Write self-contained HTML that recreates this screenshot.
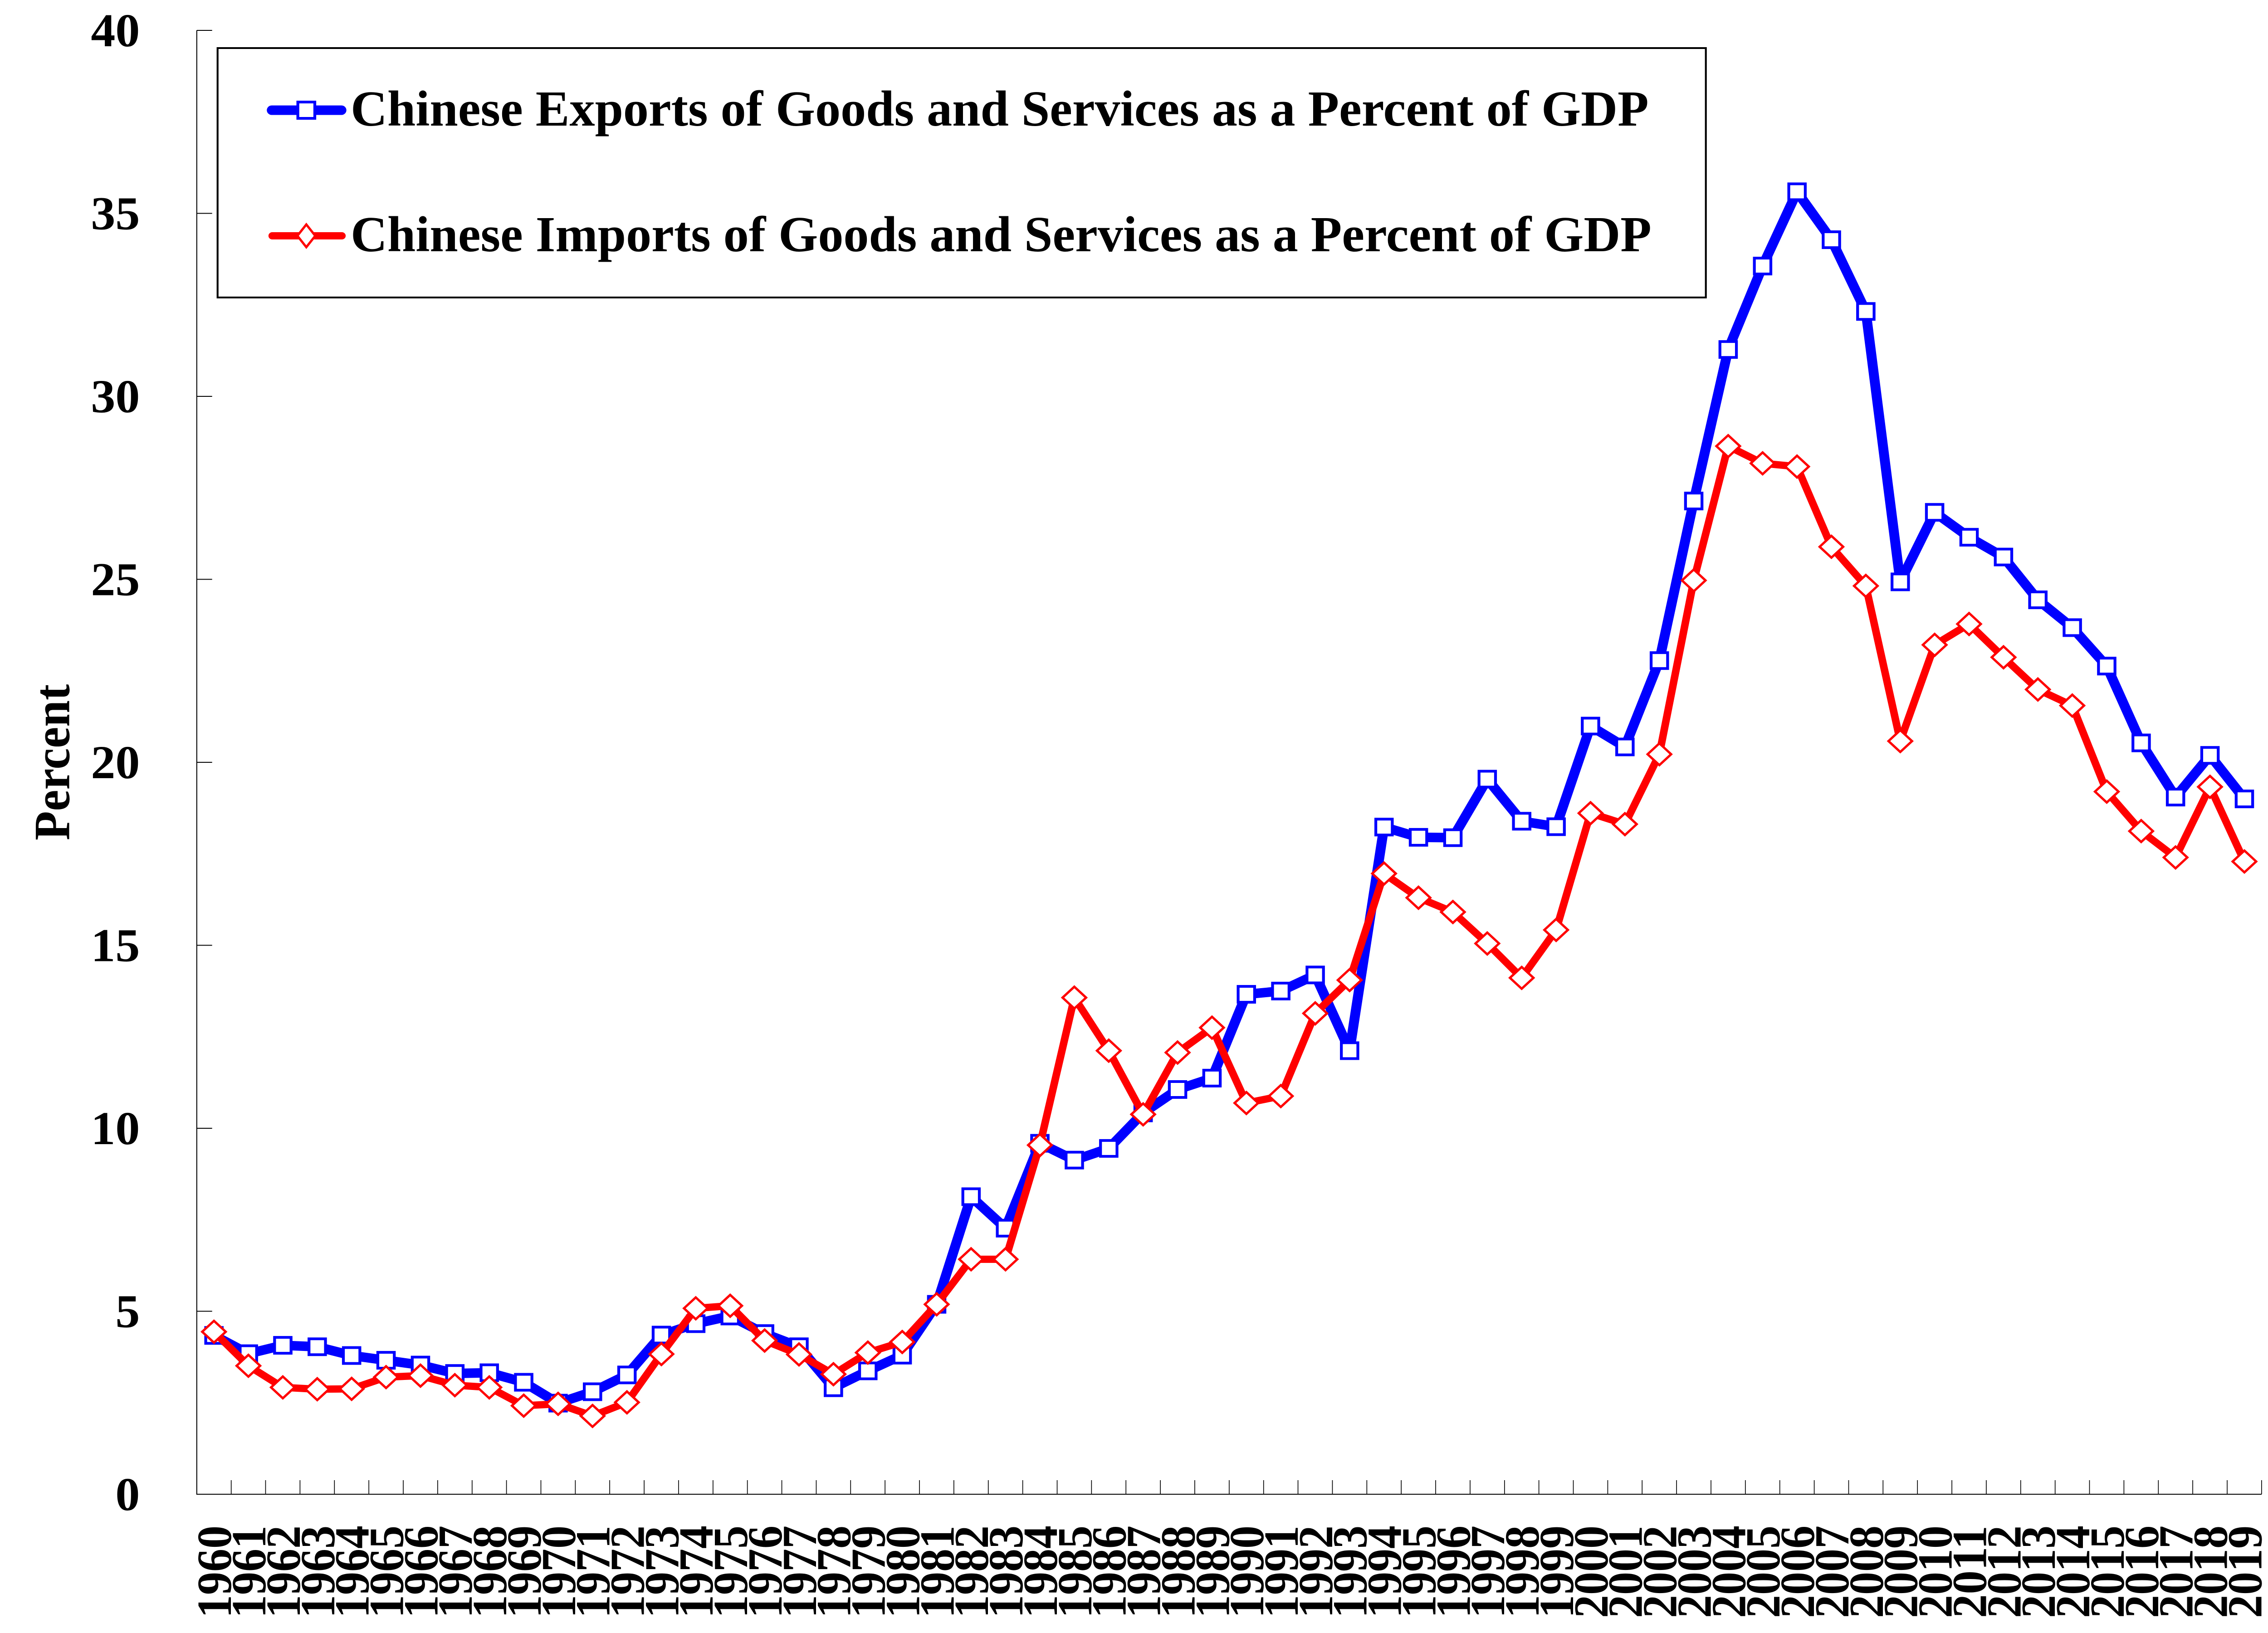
<!DOCTYPE html>
<html>
<head>
<meta charset="utf-8">
<style>
html,body{margin:0;padding:0;background:#fff;width:100%;height:100%;overflow:hidden;}
svg{display:block;position:absolute;left:0;top:0;width:100vw;height:100vh;}
text{font-family:"Liberation Serif","Times New Roman",serif;font-weight:bold;fill:#000;}
</style>
</head>
<body>
<svg viewBox="0 0 4815.6 3601" preserveAspectRatio="none" xmlns="http://www.w3.org/2000/svg">
<defs>
<rect id="s" x="-17.5" y="-17.5" width="35" height="35" fill="#fff" stroke="#0000ff" stroke-width="6"/>
<polygon id="d" points="0,-24 25,0 0,24 -25,0" fill="#fff" stroke="#ff0000" stroke-width="5"/>
</defs>
<rect x="0" y="0" width="4815.6" height="3601" fill="#fff"/>

<!-- axes -->
<path d="M417.8 67V3295H4802" fill="none" stroke="#000" stroke-width="2"/>
<path d="M417.8 67H450.4M417.8 470.5H450.4M417.8 874H450.4M417.8 1277.5H450.4M417.8 1681H450.4M417.8 2084.5H450.4M417.8 2488H450.4M417.8 2891.5H450.4" stroke="#000" stroke-width="2"/>
<path stroke="#000" stroke-width="1.6" d="M490.9 3264V3295M563.9 3264V3295M637.0 3264V3295M710.1 3264V3295M783.2 3264V3295M856.2 3264V3295M929.3 3264V3295M1002.4 3264V3295M1075.4 3264V3295M1148.5 3264V3295M1221.6 3264V3295M1294.6 3264V3295M1367.7 3264V3295M1440.8 3264V3295M1513.9 3264V3295M1586.9 3264V3295M1660.0 3264V3295M1733.1 3264V3295M1806.1 3264V3295M1879.2 3264V3295M1952.3 3264V3295M2025.3 3264V3295M2098.4 3264V3295M2171.5 3264V3295M2244.6 3264V3295M2317.6 3264V3295M2390.7 3264V3295M2463.8 3264V3295M2536.8 3264V3295M2609.9 3264V3295M2683.0 3264V3295M2756.0 3264V3295M2829.1 3264V3295M2902.2 3264V3295M2975.2 3264V3295M3048.3 3264V3295M3121.4 3264V3295M3194.5 3264V3295M3267.5 3264V3295M3340.6 3264V3295M3413.7 3264V3295M3486.7 3264V3295M3559.8 3264V3295M3632.9 3264V3295M3705.9 3264V3295M3779.0 3264V3295M3852.1 3264V3295M3925.2 3264V3295M3998.2 3264V3295M4071.3 3264V3295M4144.4 3264V3295M4217.4 3264V3295M4290.5 3264V3295M4363.6 3264V3295M4436.6 3264V3295M4509.7 3264V3295M4582.8 3264V3295M4655.8 3264V3295M4728.9 3264V3295M4802.0 3264V3295"/>

<!-- y tick labels -->
<g font-size="104" text-anchor="end">
<text x="297" y="102">40</text>
<text x="297" y="505.5">35</text>
<text x="297" y="909">30</text>
<text x="297" y="1312.5">25</text>
<text x="297" y="1716">20</text>
<text x="297" y="2119.5">15</text>
<text x="297" y="2523">10</text>
<text x="297" y="2926.5">5</text>
<text x="297" y="3330">0</text>
</g>

<!-- y axis title -->
<text font-size="108" text-anchor="middle" textLength="344" lengthAdjust="spacingAndGlyphs" transform="translate(146.7,1681) rotate(-90)">Percent</text>

<!-- x labels -->
<g font-size="104">
<text transform="translate(490.3,3568) rotate(-90)" textLength="204" lengthAdjust="spacingAndGlyphs">1960</text>
<text transform="translate(563.4,3568) rotate(-90)" textLength="204" lengthAdjust="spacingAndGlyphs">1961</text>
<text transform="translate(636.5,3568) rotate(-90)" textLength="204" lengthAdjust="spacingAndGlyphs">1962</text>
<text transform="translate(709.6,3568) rotate(-90)" textLength="204" lengthAdjust="spacingAndGlyphs">1963</text>
<text transform="translate(782.6,3568) rotate(-90)" textLength="204" lengthAdjust="spacingAndGlyphs">1964</text>
<text transform="translate(855.7,3568) rotate(-90)" textLength="204" lengthAdjust="spacingAndGlyphs">1965</text>
<text transform="translate(928.8,3568) rotate(-90)" textLength="204" lengthAdjust="spacingAndGlyphs">1966</text>
<text transform="translate(1001.8,3568) rotate(-90)" textLength="204" lengthAdjust="spacingAndGlyphs">1967</text>
<text transform="translate(1074.9,3568) rotate(-90)" textLength="204" lengthAdjust="spacingAndGlyphs">1968</text>
<text transform="translate(1148.0,3568) rotate(-90)" textLength="204" lengthAdjust="spacingAndGlyphs">1969</text>
<text transform="translate(1221.0,3568) rotate(-90)" textLength="204" lengthAdjust="spacingAndGlyphs">1970</text>
<text transform="translate(1294.1,3568) rotate(-90)" textLength="204" lengthAdjust="spacingAndGlyphs">1971</text>
<text transform="translate(1367.2,3568) rotate(-90)" textLength="204" lengthAdjust="spacingAndGlyphs">1972</text>
<text transform="translate(1440.3,3568) rotate(-90)" textLength="204" lengthAdjust="spacingAndGlyphs">1973</text>
<text transform="translate(1513.3,3568) rotate(-90)" textLength="204" lengthAdjust="spacingAndGlyphs">1974</text>
<text transform="translate(1586.4,3568) rotate(-90)" textLength="204" lengthAdjust="spacingAndGlyphs">1975</text>
<text transform="translate(1659.5,3568) rotate(-90)" textLength="204" lengthAdjust="spacingAndGlyphs">1976</text>
<text transform="translate(1732.5,3568) rotate(-90)" textLength="204" lengthAdjust="spacingAndGlyphs">1977</text>
<text transform="translate(1805.6,3568) rotate(-90)" textLength="204" lengthAdjust="spacingAndGlyphs">1978</text>
<text transform="translate(1878.7,3568) rotate(-90)" textLength="204" lengthAdjust="spacingAndGlyphs">1979</text>
<text transform="translate(1951.7,3568) rotate(-90)" textLength="204" lengthAdjust="spacingAndGlyphs">1980</text>
<text transform="translate(2024.8,3568) rotate(-90)" textLength="204" lengthAdjust="spacingAndGlyphs">1981</text>
<text transform="translate(2097.9,3568) rotate(-90)" textLength="204" lengthAdjust="spacingAndGlyphs">1982</text>
<text transform="translate(2171.0,3568) rotate(-90)" textLength="204" lengthAdjust="spacingAndGlyphs">1983</text>
<text transform="translate(2244.0,3568) rotate(-90)" textLength="204" lengthAdjust="spacingAndGlyphs">1984</text>
<text transform="translate(2317.1,3568) rotate(-90)" textLength="204" lengthAdjust="spacingAndGlyphs">1985</text>
<text transform="translate(2390.2,3568) rotate(-90)" textLength="204" lengthAdjust="spacingAndGlyphs">1986</text>
<text transform="translate(2463.2,3568) rotate(-90)" textLength="204" lengthAdjust="spacingAndGlyphs">1987</text>
<text transform="translate(2536.3,3568) rotate(-90)" textLength="204" lengthAdjust="spacingAndGlyphs">1988</text>
<text transform="translate(2609.4,3568) rotate(-90)" textLength="204" lengthAdjust="spacingAndGlyphs">1989</text>
<text transform="translate(2682.4,3568) rotate(-90)" textLength="204" lengthAdjust="spacingAndGlyphs">1990</text>
<text transform="translate(2755.5,3568) rotate(-90)" textLength="204" lengthAdjust="spacingAndGlyphs">1991</text>
<text transform="translate(2828.6,3568) rotate(-90)" textLength="204" lengthAdjust="spacingAndGlyphs">1992</text>
<text transform="translate(2901.6,3568) rotate(-90)" textLength="204" lengthAdjust="spacingAndGlyphs">1993</text>
<text transform="translate(2974.7,3568) rotate(-90)" textLength="204" lengthAdjust="spacingAndGlyphs">1994</text>
<text transform="translate(3047.8,3568) rotate(-90)" textLength="204" lengthAdjust="spacingAndGlyphs">1995</text>
<text transform="translate(3120.9,3568) rotate(-90)" textLength="204" lengthAdjust="spacingAndGlyphs">1996</text>
<text transform="translate(3193.9,3568) rotate(-90)" textLength="204" lengthAdjust="spacingAndGlyphs">1997</text>
<text transform="translate(3267.0,3568) rotate(-90)" textLength="204" lengthAdjust="spacingAndGlyphs">1998</text>
<text transform="translate(3340.1,3568) rotate(-90)" textLength="204" lengthAdjust="spacingAndGlyphs">1999</text>
<text transform="translate(3413.1,3568) rotate(-90)" textLength="204" lengthAdjust="spacingAndGlyphs">2000</text>
<text transform="translate(3486.2,3568) rotate(-90)" textLength="204" lengthAdjust="spacingAndGlyphs">2001</text>
<text transform="translate(3559.3,3568) rotate(-90)" textLength="204" lengthAdjust="spacingAndGlyphs">2002</text>
<text transform="translate(3632.3,3568) rotate(-90)" textLength="204" lengthAdjust="spacingAndGlyphs">2003</text>
<text transform="translate(3705.4,3568) rotate(-90)" textLength="204" lengthAdjust="spacingAndGlyphs">2004</text>
<text transform="translate(3778.5,3568) rotate(-90)" textLength="204" lengthAdjust="spacingAndGlyphs">2005</text>
<text transform="translate(3851.6,3568) rotate(-90)" textLength="204" lengthAdjust="spacingAndGlyphs">2006</text>
<text transform="translate(3924.6,3568) rotate(-90)" textLength="204" lengthAdjust="spacingAndGlyphs">2007</text>
<text transform="translate(3997.7,3568) rotate(-90)" textLength="204" lengthAdjust="spacingAndGlyphs">2008</text>
<text transform="translate(4070.8,3568) rotate(-90)" textLength="204" lengthAdjust="spacingAndGlyphs">2009</text>
<text transform="translate(4143.8,3568) rotate(-90)" textLength="204" lengthAdjust="spacingAndGlyphs">2010</text>
<text transform="translate(4216.9,3568) rotate(-90)" textLength="204" lengthAdjust="spacingAndGlyphs">2011</text>
<text transform="translate(4290.0,3568) rotate(-90)" textLength="204" lengthAdjust="spacingAndGlyphs">2012</text>
<text transform="translate(4363.0,3568) rotate(-90)" textLength="204" lengthAdjust="spacingAndGlyphs">2013</text>
<text transform="translate(4436.1,3568) rotate(-90)" textLength="204" lengthAdjust="spacingAndGlyphs">2014</text>
<text transform="translate(4509.2,3568) rotate(-90)" textLength="204" lengthAdjust="spacingAndGlyphs">2015</text>
<text transform="translate(4582.3,3568) rotate(-90)" textLength="204" lengthAdjust="spacingAndGlyphs">2016</text>
<text transform="translate(4655.3,3568) rotate(-90)" textLength="204" lengthAdjust="spacingAndGlyphs">2017</text>
<text transform="translate(4728.4,3568) rotate(-90)" textLength="204" lengthAdjust="spacingAndGlyphs">2018</text>
<text transform="translate(4801.5,3568) rotate(-90)" textLength="204" lengthAdjust="spacingAndGlyphs">2019</text>
</g>

<!-- exports series -->
<polyline fill="none" stroke="#0000ff" stroke-width="21" stroke-linejoin="round" stroke-linecap="round" points="454.3,2944.8 527.4,2985.1 600.5,2966.6 673.6,2969.8 746.6,2989.1 819.7,2999.6 892.8,3010.1 965.8,3028.7 1038.9,3027.1 1112.0,3048.1 1185.0,3094.1 1258.1,3069.0 1331.2,3031.9 1404.3,2944.0 1477.3,2918.9 1550.4,2902.0 1623.5,2940.7 1696.5,2969.8 1769.6,3060.2 1842.7,3023.0 1915.7,2988.3 1988.8,2876.2 2061.9,2638.9 2135.0,2708.3 2208.0,2521.1 2281.1,2558.2 2354.2,2532.4 2427.2,2454.1 2500.3,2402.5 2573.4,2377.4 2646.4,2192.6 2719.5,2185.4 2792.6,2149.9 2865.6,2316.9 2938.7,1823.8 3011.8,1846.4 3084.9,1847.2 3157.9,1718.1 3231.0,1810.9 3304.1,1823.0 3377.1,1601.1 3450.2,1647.1 3523.3,1456.7 3596.3,1104.8 3669.4,770.7 3742.5,586.7 3815.6,422.9 3888.6,528.6 3961.7,686.8 4034.8,1283.1 4107.8,1129.8 4180.9,1184.7 4254.0,1228.3 4327.0,1322.7 4400.1,1384.0 4473.2,1468.8 4546.3,1638.2 4619.3,1757.7 4692.4,1665.7 4765.5,1761.7"/>
<g>
<use href="#s" x="454.3" y="2944.8"/><use href="#s" x="527.4" y="2985.1"/><use href="#s" x="600.5" y="2966.6"/><use href="#s" x="673.6" y="2969.8"/><use href="#s" x="746.6" y="2989.1"/><use href="#s" x="819.7" y="2999.6"/><use href="#s" x="892.8" y="3010.1"/><use href="#s" x="965.8" y="3028.7"/><use href="#s" x="1038.9" y="3027.1"/><use href="#s" x="1112.0" y="3048.1"/><use href="#s" x="1185.0" y="3094.1"/><use href="#s" x="1258.1" y="3069.0"/><use href="#s" x="1331.2" y="3031.9"/><use href="#s" x="1404.3" y="2944.0"/><use href="#s" x="1477.3" y="2918.9"/><use href="#s" x="1550.4" y="2902.0"/><use href="#s" x="1623.5" y="2940.7"/><use href="#s" x="1696.5" y="2969.8"/><use href="#s" x="1769.6" y="3060.2"/><use href="#s" x="1842.7" y="3023.0"/><use href="#s" x="1915.7" y="2988.3"/><use href="#s" x="1988.8" y="2876.2"/><use href="#s" x="2061.9" y="2638.9"/><use href="#s" x="2135.0" y="2708.3"/><use href="#s" x="2208.0" y="2521.1"/><use href="#s" x="2281.1" y="2558.2"/><use href="#s" x="2354.2" y="2532.4"/><use href="#s" x="2427.2" y="2454.1"/><use href="#s" x="2500.3" y="2402.5"/><use href="#s" x="2573.4" y="2377.4"/><use href="#s" x="2646.4" y="2192.6"/><use href="#s" x="2719.5" y="2185.4"/><use href="#s" x="2792.6" y="2149.9"/><use href="#s" x="2865.6" y="2316.9"/><use href="#s" x="2938.7" y="1823.8"/><use href="#s" x="3011.8" y="1846.4"/><use href="#s" x="3084.9" y="1847.2"/><use href="#s" x="3157.9" y="1718.1"/><use href="#s" x="3231.0" y="1810.9"/><use href="#s" x="3304.1" y="1823.0"/><use href="#s" x="3377.1" y="1601.1"/><use href="#s" x="3450.2" y="1647.1"/><use href="#s" x="3523.3" y="1456.7"/><use href="#s" x="3596.3" y="1104.8"/><use href="#s" x="3669.4" y="770.7"/><use href="#s" x="3742.5" y="586.7"/><use href="#s" x="3815.6" y="422.9"/><use href="#s" x="3888.6" y="528.6"/><use href="#s" x="3961.7" y="686.8"/><use href="#s" x="4034.8" y="1283.1"/><use href="#s" x="4107.8" y="1129.8"/><use href="#s" x="4180.9" y="1184.7"/><use href="#s" x="4254.0" y="1228.3"/><use href="#s" x="4327.0" y="1322.7"/><use href="#s" x="4400.1" y="1384.0"/><use href="#s" x="4473.2" y="1468.8"/><use href="#s" x="4546.3" y="1638.2"/><use href="#s" x="4619.3" y="1757.7"/><use href="#s" x="4692.4" y="1665.7"/><use href="#s" x="4765.5" y="1761.7"/>
</g>

<!-- imports series -->
<polyline fill="none" stroke="#ff0000" stroke-width="16" stroke-linejoin="round" stroke-linecap="round" points="454.3,2936.7 527.4,3011.7 600.5,3059.4 673.6,3063.4 746.6,3062.6 819.7,3036.8 892.8,3033.5 965.8,3054.5 1038.9,3059.4 1112.0,3099.7 1185.0,3095.7 1258.1,3122.3 1331.2,3092.4 1404.3,2985.9 1477.3,2885.0 1550.4,2879.4 1623.5,2956.1 1696.5,2986.7 1769.6,3030.3 1842.7,2982.7 1915.7,2959.3 1988.8,2876.2 2061.9,2776.9 2135.0,2776.9 2208.0,2525.1 2281.1,2199.9 2354.2,2316.9 2427.2,2457.3 2500.3,2321.0 2573.4,2266.1 2646.4,2432.3 2719.5,2417.0 2792.6,2234.6 2865.6,2161.2 2938.7,1926.3 3011.8,1979.6 3084.9,2011.1 3157.9,2080.5 3231.0,2156.3 3304.1,2050.6 3377.1,1793.2 3450.2,1817.4 3523.3,1663.2 3596.3,1279.9 3669.4,983.8 3742.5,1021.7 3815.6,1028.9 3888.6,1205.7 3961.7,1292.0 4034.8,1634.2 4107.8,1422.0 4180.9,1376.0 4254.0,1449.4 4327.0,1520.4 4400.1,1555.9 4473.2,1745.6 4546.3,1832.7 4619.3,1890.8 4692.4,1735.1 4765.5,1899.7"/>
<g>
<use href="#d" x="454.3" y="2936.7"/><use href="#d" x="527.4" y="3011.7"/><use href="#d" x="600.5" y="3059.4"/><use href="#d" x="673.6" y="3063.4"/><use href="#d" x="746.6" y="3062.6"/><use href="#d" x="819.7" y="3036.8"/><use href="#d" x="892.8" y="3033.5"/><use href="#d" x="965.8" y="3054.5"/><use href="#d" x="1038.9" y="3059.4"/><use href="#d" x="1112.0" y="3099.7"/><use href="#d" x="1185.0" y="3095.7"/><use href="#d" x="1258.1" y="3122.3"/><use href="#d" x="1331.2" y="3092.4"/><use href="#d" x="1404.3" y="2985.9"/><use href="#d" x="1477.3" y="2885.0"/><use href="#d" x="1550.4" y="2879.4"/><use href="#d" x="1623.5" y="2956.1"/><use href="#d" x="1696.5" y="2986.7"/><use href="#d" x="1769.6" y="3030.3"/><use href="#d" x="1842.7" y="2982.7"/><use href="#d" x="1915.7" y="2959.3"/><use href="#d" x="1988.8" y="2876.2"/><use href="#d" x="2061.9" y="2776.9"/><use href="#d" x="2135.0" y="2776.9"/><use href="#d" x="2208.0" y="2525.1"/><use href="#d" x="2281.1" y="2199.9"/><use href="#d" x="2354.2" y="2316.9"/><use href="#d" x="2427.2" y="2457.3"/><use href="#d" x="2500.3" y="2321.0"/><use href="#d" x="2573.4" y="2266.1"/><use href="#d" x="2646.4" y="2432.3"/><use href="#d" x="2719.5" y="2417.0"/><use href="#d" x="2792.6" y="2234.6"/><use href="#d" x="2865.6" y="2161.2"/><use href="#d" x="2938.7" y="1926.3"/><use href="#d" x="3011.8" y="1979.6"/><use href="#d" x="3084.9" y="2011.1"/><use href="#d" x="3157.9" y="2080.5"/><use href="#d" x="3231.0" y="2156.3"/><use href="#d" x="3304.1" y="2050.6"/><use href="#d" x="3377.1" y="1793.2"/><use href="#d" x="3450.2" y="1817.4"/><use href="#d" x="3523.3" y="1663.2"/><use href="#d" x="3596.3" y="1279.9"/><use href="#d" x="3669.4" y="983.8"/><use href="#d" x="3742.5" y="1021.7"/><use href="#d" x="3815.6" y="1028.9"/><use href="#d" x="3888.6" y="1205.7"/><use href="#d" x="3961.7" y="1292.0"/><use href="#d" x="4034.8" y="1634.2"/><use href="#d" x="4107.8" y="1422.0"/><use href="#d" x="4180.9" y="1376.0"/><use href="#d" x="4254.0" y="1449.4"/><use href="#d" x="4327.0" y="1520.4"/><use href="#d" x="4400.1" y="1555.9"/><use href="#d" x="4473.2" y="1745.6"/><use href="#d" x="4546.3" y="1832.7"/><use href="#d" x="4619.3" y="1890.8"/><use href="#d" x="4692.4" y="1735.1"/><use href="#d" x="4765.5" y="1899.7"/>
</g>

<!-- legend -->
<rect x="462" y="106" width="3160" height="550" fill="#fff" stroke="#000" stroke-width="4"/>
<line x1="577" y1="243" x2="725" y2="243" stroke="#0000ff" stroke-width="21" stroke-linecap="round"/>
<rect x="632.4" y="225" width="36" height="36" fill="#fff" stroke="#0000ff" stroke-width="6"/>
<line x1="578" y1="520" x2="726" y2="520" stroke="#ff0000" stroke-width="16" stroke-linecap="round"/>
<polygon points="650.4,495 669.4,520 650.4,545 631.4,520" fill="#fff" stroke="#ff0000" stroke-width="5"/>
<text x="744.5" y="277" font-size="111" textLength="2756" lengthAdjust="spacingAndGlyphs">Chinese Exports of Goods and Services as a Percent of GDP</text>
<text x="744.5" y="554" font-size="111" textLength="2762" lengthAdjust="spacingAndGlyphs">Chinese Imports of Goods and Services as a Percent of GDP</text>
</svg>
</body>
</html>
